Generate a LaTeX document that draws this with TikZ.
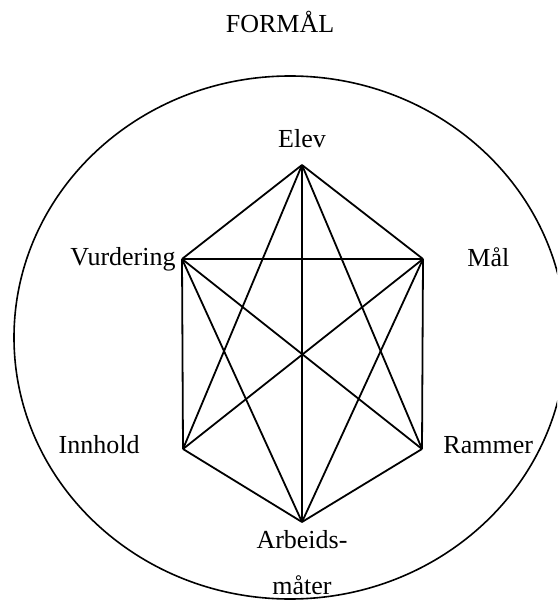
\documentclass[tikz,border=0pt]{standalone}
\usepackage{fontspec}
\setmainfont{Liberation Serif}
\usetikzlibrary{positioning}

\begin{document}
\begin{tikzpicture}[x=0.5pt, y=-0.5pt,
  lbl/.style={anchor=base, font=\fontsize{13}{15}\selectfont, inner sep=0pt},
  edge/.style={line width=0.9pt, black},
  rim/.style={line width=0.8pt, black}
]
  \clip (0,0) rectangle (557,603);

  % corners of the hexagon
  \coordinate (elev) at (302,165);
  \coordinate (maal) at (423,259);
  \coordinate (rammer) at (422,449);
  \coordinate (arbeid) at (302,522);
  \coordinate (innhold) at (183,449);
  \coordinate (vurd) at (182,259);

  % outer ellipse
  \draw[rim] (290,337.5) ellipse [x radius=138pt, y radius=130.75pt];

  % labels
  \node[lbl] (formaallbl) at (280,33) {FORMÅL};
  \node[lbl] (elevlbl) at (302,148) {Elev};
  \node[lbl, anchor=base east] (vurdlbl) at (176,266) {Vurdering};
  \node[lbl, anchor=base west] (maallbl) at (467,267) {Mål};
  \node[lbl, anchor=base east] (innholdlbl) at (140,453) {Innhold};
  \node[lbl, anchor=base west] (rammerlbl) at (443,453) {Rammer};
  \node[lbl] (arbeidlbl) at (302,548) {Arbeids-};
  \node[lbl] (maaterlbl) at (302,594) {måter};

  % connections
  \foreach \a/\b in {elev/maal, elev/rammer, elev/arbeid, elev/innhold, elev/vurd,
                     vurd/maal, vurd/rammer, vurd/arbeid, vurd/innhold,
                     maal/rammer, maal/arbeid, maal/innhold,
                     arbeid/rammer, arbeid/innhold}
    \draw[edge] (\a) -- (\b);
\end{tikzpicture}
\end{document}
